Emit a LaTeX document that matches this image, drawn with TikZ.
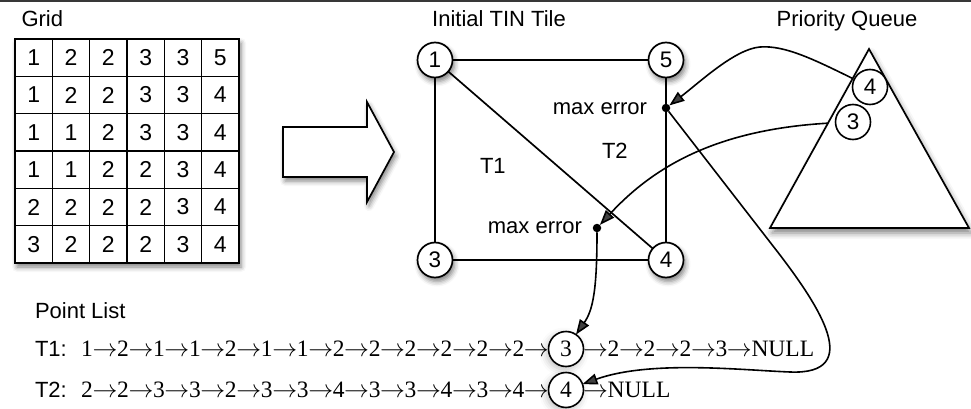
\documentclass[tikz,border=0pt]{standalone}
\usepackage{fontspec}
\setmainfont{Liberation Sans}
\newfontfamily\serifnum{Liberation Serif}
\usetikzlibrary{arrows.meta,shadows.blur}
\pgfdeclarelayer{behind}
\pgfsetlayers{behind,main}
% link arrow between list entries
\newcommand\nx{\makebox[24.2pt][c]{$\rightarrow$}}

\begin{document}
\begin{tikzpicture}[x=1pt,y=-1pt,
  every node/.style={inner sep=0pt, outer sep=0pt, font=\fontsize{22}{26}\selectfont},
  lbl/.style={anchor=base west},
  cell/.style={draw, line width=1.6pt, minimum size=37.33pt, font=\fontsize{23}{26}\selectfont},
  softshadow/.style={blur shadow={shadow xshift=2pt, shadow yshift=-4pt,
      shadow blur radius=5pt, shadow opacity=50}},
  vtx/.style={circle, draw, line width=1.7pt, fill=white, minimum size=35pt,
    font=\fontsize{22.5}{26}\selectfont, softshadow},
  qnode/.style={circle, draw, line width=1.6pt, fill=white, minimum size=35pt,
    font=\fontsize{22.5}{26}\selectfont},
  lnode/.style={circle, draw, line width=1.6pt, fill=white, minimum size=35pt,
    font=\serifnum\fontsize{23.5}{28}\selectfont,
    blur shadow={shadow xshift=-2pt, shadow yshift=-3pt, shadow blur radius=7pt, shadow opacity=25}},
  numrow/.style={font=\serifnum\fontsize{23.5}{28}\selectfont},
  errdot/.style={circle, fill=black, minimum size=8.5pt},
  tinline/.style={line width=1.7pt},
  pointer/.style={line width=1.6pt, -{Triangle[length=15pt,width=11pt]}},
]
\useasboundingbox (0,0) rectangle (971,409);
% dark rule along the top edge
\fill[black!78] (0,0) rectangle (971,2.5);

% ---- the elevation grid ----
\node[lbl] (gridlbl) at (21.5,27) {Grid};
\fill[white, softshadow] (15,39) rectangle (239,263);
\foreach \r [count=\i] in {{1,2,2,3,3,5},{1,2,2,3,3,4},{1,1,2,3,3,4},{1,1,2,2,3,4},{2,2,2,2,3,4},{3,2,2,2,3,4}}
  \foreach \v [count=\j] in \r
    \node[cell] (g\i\j) at ({15+(\j-0.5)*37.33},{39+(\i-0.5)*37.33}) {\v};
\draw[line width=2.2pt] (g11.north west) rectangle (g66.south east);

% ---- conversion arrow ----
\draw[line width=1.7pt, fill=white, softshadow]
  (283,127) -- (367,127) -- (367,102) -- (394,152) -- (367,202) -- (367,177) -- (283,177) -- cycle;

% ---- initial TIN tile ----
\node[anchor=base] (tinlbl) at (499,27) {Initial TIN Tile};
\node[vtx] (v1) at (435,60) {1};
\node[vtx] (v5) at (666,60) {5};
\node[vtx] (v3) at (435,260) {3};
\node[vtx] (v4) at (666,260) {4};
\draw[tinline] (v1) -- (v5) (v1) -- (v3) (v3) -- (v4) (v5) -- (v4) (v1) -- (v4);
\node[errdot] (e1) at (666,108) {};
\node[errdot] (e2) at (597,228) {};
\node[anchor=base east] (e1lbl) at (647,115) {max error};
\node[anchor=base east] (e2lbl) at (582,233) {max error};
\node[lbl] (t1lbl) at (480,173) {T1};
\node[lbl] (t2lbl) at (602,158) {T2};

% ---- priority queue ----
\node[anchor=base] (pqlbl) at (847,27) {Priority Queue};
\draw[line width=1.7pt, fill=white,
  blur shadow={shadow xshift=2pt, shadow yshift=-5pt, shadow blur radius=6pt, shadow opacity=50}]
  (869,49) -- (969,228) -- (770,228) -- cycle;
\node[qnode] (q4) at (870,87) {4};
\node[qnode] (q3) at (853,122) {3};

% ---- point lists ----
\node[lbl] (pl) at (35,318) {Point List};
\node[lnode] (l3) at (566,349) {3};
\node[lnode] (l4) at (566,390) {4};
\node[lbl] (r1l) at (pl.west |- l3.base) {T1:};
\node[lbl] (r2l) at (pl.west |- l4.base) {T2:};
\node[numrow, anchor=base east] (r1a) at (l3.base -| l3.west)
  {1\nx2\nx1\nx1\nx2\nx1\nx1\nx2\nx2\nx2\nx2\nx2\nx2\nx};
\node[numrow, anchor=base west] (r1b) at (l3.base -| l3.east) {\nx2\nx2\nx2\nx3\nx NULL};
\node[numrow, anchor=base east] (r2a) at (l4.base -| l4.west)
  {2\nx2\nx3\nx3\nx2\nx3\nx3\nx4\nx3\nx3\nx4\nx3\nx4\nx};
\node[numrow, anchor=base west] (r2b) at (l4.base -| l4.east) {\nx NULL};

% ---- pointers ----
\begin{pgfonlayer}{behind}
\draw[pointer] (q4) .. controls (815,60) and (785,45) .. (760,47)
  .. controls (735,49) and (700,82) .. (e1);
\draw[pointer] (q3) .. controls (720,128) and (655,165) .. (e2);
\end{pgfonlayer}
\draw[pointer] (e2) .. controls (597,290) and (593,310) .. (l3);
\draw[pointer] (e1) -- (780,255) .. controls (818,305) and (865,375) .. (790,372)
  .. controls (740,370) and (650,360) .. (l4);
\end{tikzpicture}
\end{document}
